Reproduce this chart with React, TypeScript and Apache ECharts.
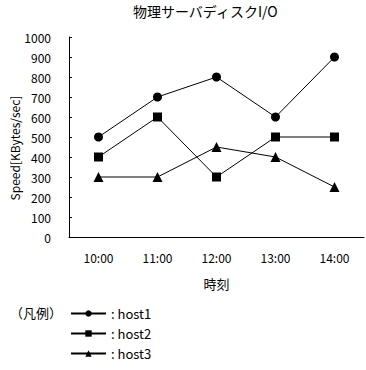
import React, { useEffect, useRef } from "react";
import * as echarts from "echarts";

const categories = ["10:00", "11:00", "12:00", "13:00", "14:00"];
const host1 = [500, 700, 800, 600, 900];
const host2 = [400, 600, 300, 500, 500];
const host3 = [300, 300, 450, 400, 250];
const seriesNames = ["host1", "host2", "host3"];
const titleText = "物理サーバディスクI/O";
const yName = "Speed[KBytes/sec]";
const xName = "時刻";
const legendTitle = "（凡例）";

const FONT = "'Noto Sans CJK JP', 'DejaVu Sans', sans-serif";

export default function App() {
  const ref = useRef<HTMLDivElement>(null);
  useEffect(() => {
    document.body.style.margin = "0";
    if (!ref.current) return;
    const chart = echarts.init(ref.current, undefined, { renderer: "svg" });
    const mk = (name: string, data: number[], symbol: string, size: number) => ({
      name,
      type: "line",
      data,
      symbol,
      symbolSize: size,
      showAllSymbol: true,
      lineStyle: { color: "#000", width: 1 },
      itemStyle: { color: "#000" },
      emphasis: { disabled: true },
    });
    const legendRow = (name: string, top: number) => ({
      orient: "horizontal",
      left: 70,
      top,
      itemWidth: 35,
      itemHeight: 8,
      data: [name],
      formatter: (n: string) => ": " + n,
      textStyle: { fontSize: 13, color: "#000", fontFamily: FONT },
      selectedMode: false,
      padding: 0,
    });
    chart.setOption({
      animation: false,
      backgroundColor: "#fff",
      textStyle: { fontFamily: FONT, color: "#000" },
      title: {
        text: titleText,
        left: 133,
        top: 4,
        padding: 0,
        textStyle: { fontSize: 14, fontWeight: "normal", color: "#000", fontFamily: FONT },
      },
      grid: { left: 69, right: 2, top: 37, bottom: 133, containLabel: false },
      xAxis: {
        type: "category",
        data: categories,
        boundaryGap: true,
        name: xName,
        nameLocation: "middle",
        nameGap: 40,
        nameTextStyle: { fontSize: 13, color: "#000", fontFamily: FONT },
        axisLine: { lineStyle: { color: "#000", width: 1 } },
        axisTick: { inside: true, length: 3, lineStyle: { color: "#000" } },
        axisLabel: { margin: 14, fontSize: 12, color: "#000", fontFamily: FONT },
        splitLine: { show: false },
      },
      yAxis: {
        type: "value",
        min: 0,
        max: 1000,
        interval: 100,
        axisLine: { show: true, lineStyle: { color: "#000", width: 1 } },
        axisTick: { show: true, inside: true, length: 3, lineStyle: { color: "#000" } },
        axisLabel: {
          margin: 18,
          fontSize: 12,
          color: "#000",
          fontFamily: FONT,
          formatter: (v: number) => String(v),
        },
        splitLine: { show: false },
      },
      legend: [
        legendRow(seriesNames[0], 307),
        legendRow(seriesNames[1], 327),
        legendRow(seriesNames[2], 347),
      ],
      graphic: [
        {
          type: "text",
          left: 10,
          top: 306,
          style: { text: legendTitle, fontSize: 13, fill: "#000", fontFamily: FONT },
        },
        {
          type: "text",
          x: 14,
          y: 148,
          rotation: Math.PI / 2,
          style: {
            text: yName,
            fontSize: 12,
            fill: "#000",
            fontFamily: FONT,
            align: "center",
            verticalAlign: "middle",
          },
        },
      ],
      series: [
        mk(seriesNames[0], host1, "circle", 9),
        mk(seriesNames[1], host2, "rect", 9),
        mk(seriesNames[2], host3, "triangle", 10),
      ],
    });
    return () => chart.dispose();
  }, []);
  return <div ref={ref} style={{ width: 366, height: 370 }} />;
}
